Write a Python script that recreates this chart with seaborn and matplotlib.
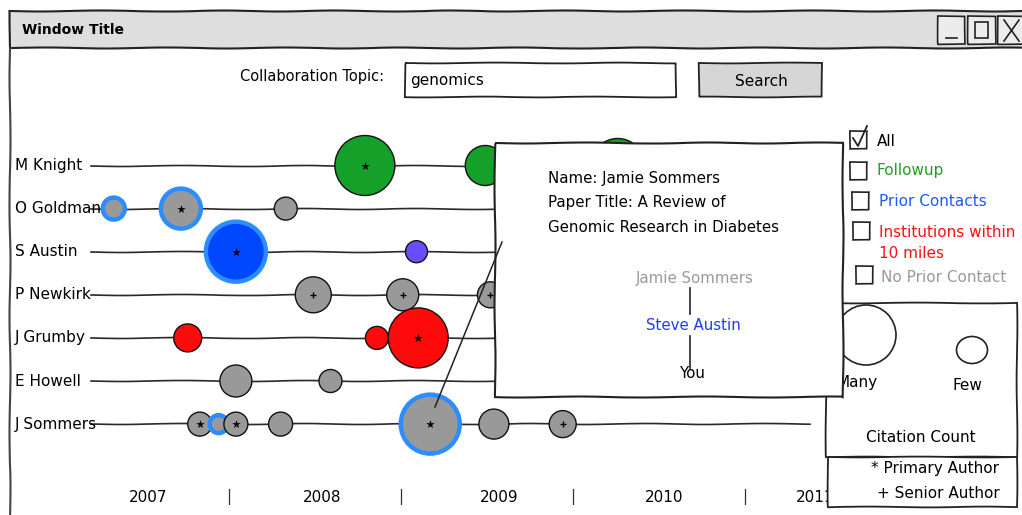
import numpy as np
import pandas as pd
import matplotlib
matplotlib.use("Agg")
import matplotlib.pyplot as plt
import matplotlib.transforms as mtrans
from matplotlib.patches import Rectangle, Circle, Ellipse
import seaborn as sns

# ---------------- data ----------------
people = ["M Knight", "O Goldman", "S Austin", "P Newkirk", "J Grumby", "E Howell", "J Sommers"]
years = [2007, 2008, 2009, 2010, 2011]

pub_person = [0, 0, 0,
              1, 1, 1,
              2, 2,
              3, 3, 3,
              4, 4, 4,
              5, 5,
              6, 6, 6, 6, 6, 6, 6]
pub_year = [2008.79, 2009.49, 2010.26,
            2007.33, 2007.72, 2008.33,
            2008.04, 2009.09,
            2008.49, 2009.01, 2009.52,
            2007.76, 2008.86, 2009.10,
            2008.04, 2008.59,
            2007.83, 2007.94, 2008.04, 2008.30, 2009.17, 2009.54, 2009.94]
pub_cites = [60, 40, 54,
             22, 40, 23,
             60, 22,
             36, 32, 26,
             28, 23, 60,
             32, 23,
             24, 18, 24, 24, 59, 30, 27]
pub_group = ["Followup", "Followup", "Followup",
             "No Prior Contact", "No Prior Contact", "No Prior Contact",
             "Prior Contacts", "Indirect",
             "No Prior Contact", "No Prior Contact", "No Prior Contact",
             "Institutions within 10 miles", "Institutions within 10 miles", "Institutions within 10 miles",
             "No Prior Contact", "No Prior Contact",
             "No Prior Contact", "No Prior Contact", "No Prior Contact", "No Prior Contact",
             "No Prior Contact", "No Prior Contact", "No Prior Contact"]
pub_ring = [0, 0, 0,
            1, 1, 0,
            1, 0,
            0, 0, 0,
            0, 0, 0,
            0, 0,
            0, 1, 0, 0, 1, 0, 0]
pub_role = ["*", "", "",
            "", "*", "",
            "*", "",
            "+", "+", "+",
            "", "", "*",
            "", "",
            "*", "", "*", "", "*", "", "+"]

filters = ["All", "Followup", "Prior Contacts", "Institutions within\n10 miles", "No Prior Contact"]

# ---------------- style ----------------
palette = {"Followup": "#15a02a", "Prior Contacts": "#0047ff",
           "Institutions within 10 miles": "#ff0a0a", "No Prior Contact": "#999999",
           "Indirect": "#6a4dff"}
RING = "#2b8dff"
filter_colors = ["black", "#20a020", "#1a5cff", "#ff1010", "#9a9a9a"]

plt.rcParams["font.family"] = ["DejaVu Sans"]
W, H = 1022, 515
fig = plt.figure(figsize=(W / 100, H / 100), dpi=100)
ax = fig.add_axes([0, 0, 1, 1], zorder=1)
ui = fig.add_axes([0, 0, 1, 1], zorder=2)
ui.set_xlim(0, W); ui.set_ylim(H, 0); ui.axis("off"); ui.patch.set_alpha(0)

PX_2008, PX_YEAR = 229, 172
ROW0, ROW_PX = 165.5, 43.1
ax.set_xlim(2008 - PX_2008 / PX_YEAR, 2008 + (W - PX_2008) / PX_YEAR)
ax.set_ylim((H - ROW0) / ROW_PX, -ROW0 / ROW_PX)
ax.axis("off")

def sketch(a, s=0.6):
    a.set_sketch_params(scale=s, length=140, randomness=2.5)
    return a

# row lines
for i in range(len(people)):
    ln, = ax.plot([2007.2, 2011.38], [i, i], color="#2a2a2a", lw=1.2, zorder=2)
    sketch(ln, 0.5)

df = pd.DataFrame(dict(row=pub_person, year=pub_year, cites=pub_cites,
                       group=pub_group, ring=pub_ring, role=pub_role))
sizes = {c: (c * 0.72) ** 2 for c in df["cites"].unique()}
sns.scatterplot(data=df, x="year", y="row", hue="group", palette=palette,
                size="cites", sizes=sizes, legend=False, ax=ax, zorder=3,
                edgecolor="black", linewidth=1.0)
coll = ax.collections[-1]
coll.set_edgecolors([RING if r else "#111111" for r in df["ring"]])
coll.set_linewidths([3.2 if r else 1.0 for r in df["ring"]])

stars = df[df["role"] == "*"]
plus = df[df["role"] == "+"]
ax.scatter(stars["year"], stars["row"], marker="*", s=40, color="black", lw=0, zorder=4)
ax.scatter(plus["year"], plus["row"], marker="+", s=24, color="black", lw=1.0, zorder=4)

# names
tr_name = mtrans.blended_transform_factory(ui.transData, ax.transData)
for i, name in enumerate(people):
    ax.text(15, i, name, transform=tr_name, va="center", ha="left", fontsize=11, zorder=5)

# year labels and separators
tr_year = mtrans.blended_transform_factory(ax.transData, ui.transData)
label_offset = [0.53, 0.54, 0.57, 0.53, 0.41]
for y, off in zip(years, label_offset):
    ax.text(y + off, 497, str(y), transform=tr_year, ha="center", va="center", fontsize=11)
for y in years[1:]:
    ax.text(y, 497, "|", transform=tr_year, ha="center", va="center", fontsize=11, color="#333333")

# ---------------- window chrome ----------------
ui.add_patch(sketch(Rectangle((10, 11), 1030, 37, facecolor="#dedede", edgecolor="#222", lw=1.5), 0.5))
l, = ui.plot([10, 10], [48, 515], color="#444", lw=1.5); sketch(l, 0.5)
ui.text(22, 30, "Window Title", fontsize=10, fontweight="bold", va="center")
for bx, bw in [(938, 27), (968, 28), (998, 30)]:
    ui.add_patch(sketch(Rectangle((bx, 16), bw, 28, facecolor="#ececec", edgecolor="#222", lw=1.2), 0.4))
ui.plot([946, 957], [38, 38], color="#222", lw=1.2)
ui.add_patch(Rectangle((975, 22), 13, 16, facecolor="none", edgecolor="#222", lw=1.2))
ui.plot([1004, 1019], [20, 41], color="#222", lw=1.2)
ui.plot([1004, 1019], [41, 20], color="#222", lw=1.2)

ui.text(240, 77, "Collaboration Topic:", fontsize=10.5, va="center")
ui.add_patch(sketch(Rectangle((405, 63), 271, 34, facecolor="white", edgecolor="#222", lw=1.3), 0.4))
ui.text(410, 80, "genomics", fontsize=11, va="center")
ui.add_patch(sketch(Rectangle((699, 63), 123, 34, facecolor="#d6d6d6", edgecolor="#222", lw=1.3), 0.4))
ui.text(761, 81, "Search", fontsize=11, va="center", ha="center")

# filters
boxes = [(850, 131), (850, 162), (852, 192), (853, 222), (856, 266)]
text_pos = [(877, 141), (877, 171), (879, 202), (879, 243), (881, 278)]
for (bx, by), (tx, ty), lab, col in zip(boxes, text_pos, filters, filter_colors):
    ui.add_patch(sketch(Rectangle((bx, by), 17, 18, facecolor="white", edgecolor="#222", lw=1.2), 0.3))
    ui.text(tx, ty, lab, color=col, fontsize=11, va="center", linespacing=1.5)
ui.plot([853, 858, 867], [138, 146, 126], color="#222", lw=1.3)

# legend
ui.add_patch(sketch(Rectangle((826, 303), 191, 154, facecolor="white", edgecolor="#222", lw=1.3), 0.4))
ui.add_patch(sketch(Rectangle((828, 457), 189, 50, facecolor="white", edgecolor="#222", lw=1.3), 0.4))
ui.add_patch(Circle((866, 335), 30, facecolor="white", edgecolor="#222", lw=1.2))
ui.add_patch(Ellipse((972, 350), 31, 27, facecolor="white", edgecolor="#222", lw=1.2))
ui.text(857, 383, "Many", fontsize=11, ha="center", va="center")
ui.text(967, 386, "Few", fontsize=11, ha="center", va="center")
ui.text(921, 438, "Citation Count", fontsize=11, ha="center", va="center")
ui.text(935, 469, "* Primary Author", fontsize=11, ha="center", va="center")
ui.text(938, 494, "+ Senior Author", fontsize=11, ha="center", va="center")

# popup
ui.add_patch(sketch(Rectangle((495, 143), 348, 254, facecolor="white", edgecolor="#222", lw=1.5, zorder=5), 0.5))
ui.plot([435, 502], [407, 242], color="#222", lw=1.1, zorder=6)
ui.text(548, 178, "Name: Jamie Sommers", fontsize=10.8, va="center", zorder=6)
ui.text(548, 203, "Paper Title: A Review of", fontsize=10.8, va="center", zorder=6)
ui.text(548, 228, "Genomic Research in Diabetes", fontsize=10.8, va="center", zorder=6)
ui.text(695, 278, "Jamie Sommers", fontsize=10.8, va="center", ha="center", color="#9a9a9a", zorder=6)
ui.text(693, 325, "Steve Austin", fontsize=10.8, va="center", ha="center", color="#1e3cff", zorder=6)
ui.text(693, 373, "You", fontsize=10.8, va="center", ha="center", zorder=6)
ui.plot([690, 690], [288, 314], color="#222", lw=1.2, zorder=6)
ui.plot([690, 690], [336, 368], color="#222", lw=1.2, zorder=6)

fig.savefig("out.png", dpi=100, facecolor="white")
